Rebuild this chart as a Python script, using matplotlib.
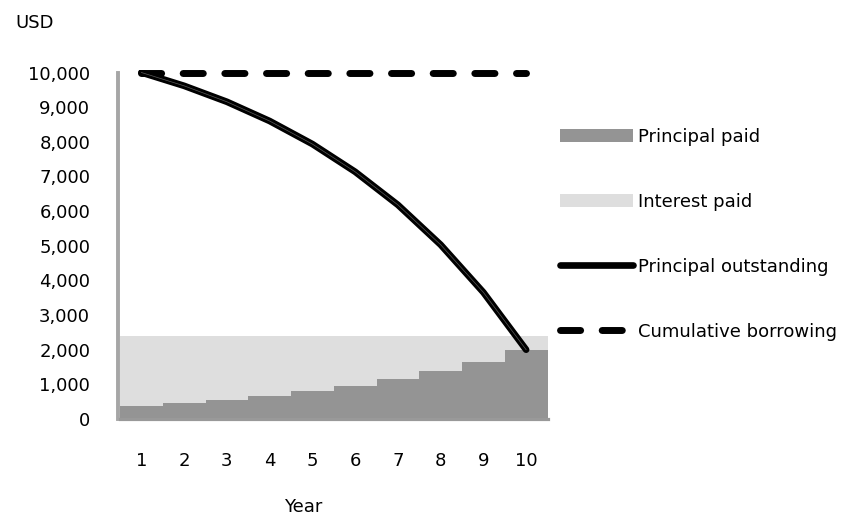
import matplotlib
matplotlib.use("Agg")
import matplotlib.pyplot as plt
from matplotlib.ticker import FuncFormatter

# Loan repayment schedule, 10 annual instalments (USD)
years = [1, 2, 3, 4, 5, 6, 7, 8, 9, 10]
principal_paid = [385, 460, 555, 665, 800, 955, 1150, 1380, 1655, 1985]
interest_paid = [2000, 1925, 1830, 1720, 1585, 1430, 1235, 1005, 730, 400]
principal_outstanding = [10000, 9615, 9155, 8600, 7935, 7135, 6180, 5030, 3655, 2000]
cumulative_borrowing = [10000, 10000, 10000, 10000, 10000, 10000, 10000, 10000, 10000, 10000]

y_ticks = [0, 1000, 2000, 3000, 4000, 5000, 6000, 7000, 8000, 9000, 10000]

W, H = 849, 518
DPI = 100
plt.rcParams["font.family"] = ["DejaVu Sans"]
FS = 13

fig = plt.figure(figsize=(W / DPI, H / DPI), dpi=DPI)

y_top = 10060
left_px, right_px = 120, 547.5
zero_px, top10k_px = 419, 72.5
scale = (zero_px - top10k_px) / 10000.0
ax_h = scale * y_top
ax = fig.add_axes([left_px / W, 1 - zero_px / H, (right_px - left_px) / W, ax_h / H])

dark = "#949494"
light = "#dedede"

ax.bar(years, principal_paid, width=1.0, color=dark, linewidth=0, label="Principal paid", zorder=2)
ax.bar(years, interest_paid, width=1.0, bottom=principal_paid, color=light, linewidth=0,
       label="Interest paid", zorder=2)

ax.plot(years, principal_outstanding, color="black", lw=4.8, solid_capstyle="round",
        solid_joinstyle="round", label="Principal outstanding", zorder=4)
ax.plot(years, principal_outstanding, color="#5a5a5a", lw=0.5, zorder=5)

ax.plot(years, cumulative_borrowing, color="black", lw=5, linestyle=(0, (2.9, 3.1)),
        dash_capstyle="round", label="Cumulative borrowing", zorder=4)

ax.set_xlim(0.5, 10.5)
ax.set_ylim(0, y_top)
ax.set_xticks(years)
ax.set_xticklabels([str(y) for y in years])
ax.set_yticks(y_ticks)
ax.yaxis.set_major_formatter(FuncFormatter(lambda v, p: f"{int(v):,}"))
ax.tick_params(axis="y", length=0, pad=20, labelsize=FS, colors="black")
ax.tick_params(axis="x", length=0, pad=24, labelsize=FS, colors="black")

for s in ("top", "right"):
    ax.spines[s].set_visible(False)
ax.spines["left"].set_color("#a6a6a6")
ax.spines["left"].set_linewidth(2.8)
ax.spines["left"].set_bounds(0, 10000)
ax.spines["left"].set_position(("outward", 1.5))
ax.spines["left"].set_zorder(1)
ax.spines["bottom"].set_color("#999999")
ax.spines["bottom"].set_linewidth(2.3)
ax.spines["bottom"].set_zorder(3)

fig.text(15 / W, 1 - 23 / H, "USD", fontsize=FS, ha="left", va="center")
fig.text(303 / W, 1 - 507 / H, "Year", fontsize=FS, ha="center", va="center")

handles, labels = ax.get_legend_handles_labels()
order = [2, 3, 0, 1]
handles = [handles[i] for i in order]
labels = [labels[i] for i in order]
fs_px = FS * DPI / 72
leg = fig.legend(handles, labels, loc="upper left",
                 bbox_to_anchor=(560 / W, 1 - 128 / H),
                 frameon=False, fontsize=FS, borderpad=0, borderaxespad=0,
                 handlelength=73 / fs_px, handletextpad=5 / fs_px,
                 labelspacing=2.6, handleheight=0.75)

fig.savefig("out.png", dpi=DPI)
